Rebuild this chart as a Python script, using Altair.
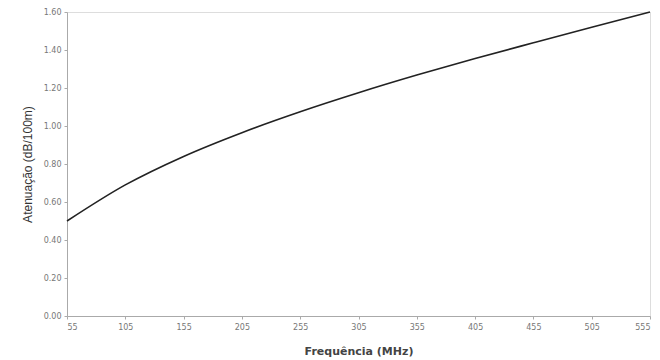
import altair as alt
import pandas as pd

freq = [55, 105, 155, 205, 255, 305, 355, 405, 455, 505, 555]
aten = [0.50, 0.69, 0.84, 0.965, 1.075, 1.175, 1.268, 1.355, 1.438, 1.52, 1.60]
x_ticks = [55, 105, 155, 205, 255, 305, 355, 405, 455, 505, 555]
y_ticks = [0.0, 0.2, 0.4, 0.6, 0.8, 1.0, 1.2, 1.4, 1.6]

df = pd.DataFrame({"f": freq, "a": aten})

chart = alt.Chart(df).mark_line(color="#222222", strokeWidth=1.6, interpolate="monotone").encode(
    x=alt.X("f:Q", scale=alt.Scale(domain=[55, 555], nice=False, zero=False),
            axis=alt.Axis(values=x_ticks, title="Frequência (MHz)", grid=False,
                          labelFont="DejaVu Sans", labelFontSize=8, labelColor="#777777",
                          domainColor="#aaaaaa", tickColor="#aaaaaa", tickSize=3, labelPadding=4,
                          titleFont="DejaVu Sans", titleFontSize=11, titleFontWeight="bold",
                          titleColor="#444444", titlePadding=14)),
    y=alt.Y("a:Q", scale=alt.Scale(domain=[0, 1.6], nice=False),
            axis=alt.Axis(values=y_ticks, format=".2f", title="Atenuação (dB/100m)", grid=False,
                          labelFont="DejaVu Sans", labelFontSize=8, labelColor="#777777",
                          domainColor="#aaaaaa", tickColor="#aaaaaa", tickSize=3, labelPadding=3,
                          titleFont="Liberation Sans", titleFontSize=12, titleFontWeight="normal",
                          titleColor="#333333", titlePadding=9)),
).properties(
    width=583, height=304,
    autosize=alt.AutoSizeParams(type="none"),
    padding={"left": 67, "top": 12, "right": 10, "bottom": 44},
).configure_view(stroke="#bbbbbb", strokeWidth=1).configure(background="white")

chart.save("out.html", embed_options={"renderer": "svg", "actions": False})
